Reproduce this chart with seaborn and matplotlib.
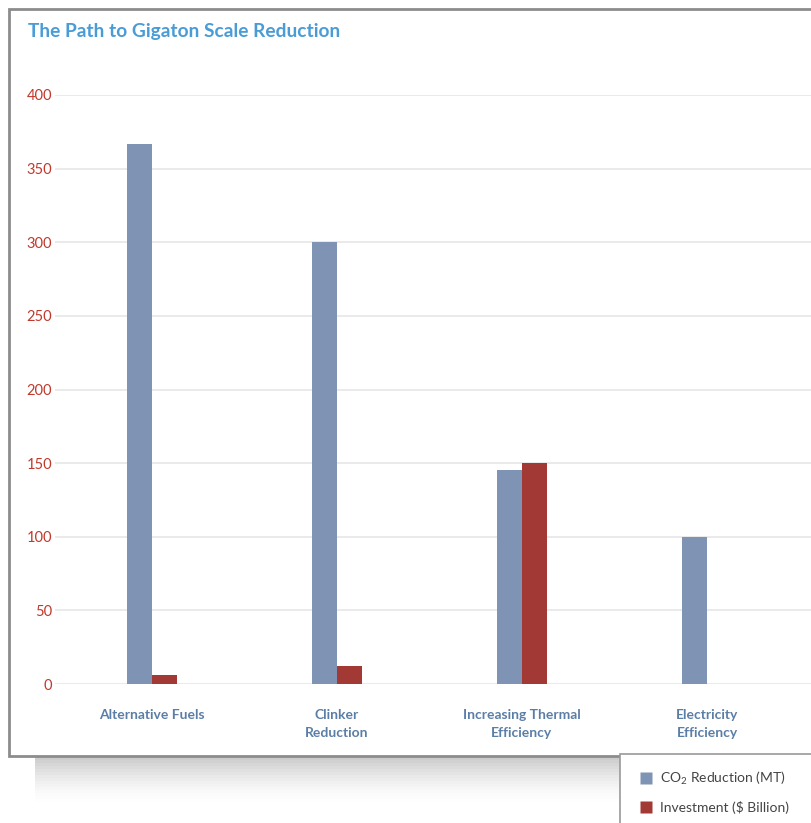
import pandas as pd
import matplotlib.pyplot as plt
import seaborn as sns
import matplotlib.patches as patches
from matplotlib.lines import Line2D

# ======================
# Data
# ======================
CATEGORIES = ["Alternative Fuels", "Clinker\nReduction",
              "Increasing Thermal\nEfficiency", "Electricity\nEfficiency"]
CO2_REDUCTION = [367, 300, 145, 100]
INVESTMENT = [6, 12, 150, 0]
SERIES = ["CO$_2$ Reduction (MT)", "Investment ($ Billion)"]
Y_TICKS = [0, 50, 100, 150, 200, 250, 300, 350, 400]

TITLE = "The Path to Gigaton Scale Reduction"

# Colors
BLUE = "#7f93b4"
RED = "#a33934"
TITLE_COLOR = "#4a9cd6"
TICK_RED = "#c0392b"
XLABEL_BLUE = "#5b7ea6"

# ======================
# Build frame
# ======================
df = pd.DataFrame({
    "category": CATEGORIES * 2,
    "value": CO2_REDUCTION + INVESTMENT,
    "series": [SERIES[0]] * len(CATEGORIES) + [SERIES[1]] * len(CATEGORIES),
})

sns.set_style("white")
plt.rcParams["font.family"] = ["Lato", "DejaVu Sans"]
plt.rcParams["mathtext.fontset"] = "custom"
plt.rcParams["mathtext.rm"] = "Lato"
plt.rcParams["mathtext.it"] = "Lato"

W, H = 811, 823
fig = plt.figure(figsize=(W / 100, H / 100), dpi=100)
fig.patch.set_facecolor("white")

# soft shadow under the chart box
for i in range(16):
    fig.patches.append(patches.Rectangle(
        (35 / W, 1 - (757 + 3 * i) / H), (W - 35) / W, 3 / H,
        transform=fig.transFigure, facecolor="#444444",
        alpha=0.3 * (1 - i / 16) ** 1.6, edgecolor="none", zorder=0))

# chart box
fig.patches.append(patches.Rectangle(
    (9 / W, 1 - 756 / H), (W - 9 + 5) / W, (756 - 9) / H,
    transform=fig.transFigure, facecolor="white", edgecolor="#8c8c8c",
    linewidth=2, zorder=1))

ax = fig.add_axes([55 / W, 1 - 684 / H, (W - 55) / W, 589 / H])
ax.set_facecolor("none")
ax.set_zorder(2)

sns.barplot(data=df, x="category", y="value", hue="series",
            palette=[BLUE, RED], width=0.27, dodge=True, ax=ax,
            saturation=1, legend=False)

for bar in ax.patches:
    bar.set_edgecolor("none")

ax.set_ylim(0, 400)
ax.set_xlim(-0.524, 3.562)
ax.set_yticks(Y_TICKS)
ax.set_yticklabels([str(t) for t in Y_TICKS], color=TICK_RED, fontsize=10.5)
ax.yaxis.grid(True, color="#e6e6e6", linewidth=1.2)
ax.set_axisbelow(True)
ax.tick_params(axis="both", length=0)
ax.tick_params(axis="y", pad=2)
ax.tick_params(axis="x", pad=18)
for lbl in ax.get_xticklabels():
    lbl.set_color(XLABEL_BLUE)
    lbl.set_fontweight("bold")
    lbl.set_fontsize(10)
    lbl.set_linespacing(1.6)
ax.set_xlabel("")
ax.set_ylabel("")
sns.despine(ax=ax, left=True, bottom=True)

fig.text(28 / W, 1 - 31 / H, TITLE, color=TITLE_COLOR, fontsize=13.8,
         fontweight="bold", va="center", ha="left", zorder=3)

# legend box at bottom right
fig.patches.append(patches.Rectangle(
    (620 / W, -5 / H), (W - 620 + 5) / W, (5 + 823 - 754) / H,
    transform=fig.transFigure, facecolor="white", edgecolor="#9a9a9a",
    linewidth=1.2, zorder=4))
handles = [Line2D([0], [0], marker="s", linestyle="none", markersize=8,
                  markerfacecolor=c, markeredgecolor="none") for c in (BLUE, RED)]
leg = fig.legend(handles, SERIES, loc="upper left",
                 bbox_to_anchor=(628 / W, 1 - 760 / H), frameon=False,
                 fontsize=10, labelspacing=1.0, handletextpad=0.4,
                 handlelength=1.2, borderpad=0.2)
for t in leg.get_texts():
    t.set_color("#444444")
leg.set_zorder(5)

fig.savefig("out.png", dpi=100)
